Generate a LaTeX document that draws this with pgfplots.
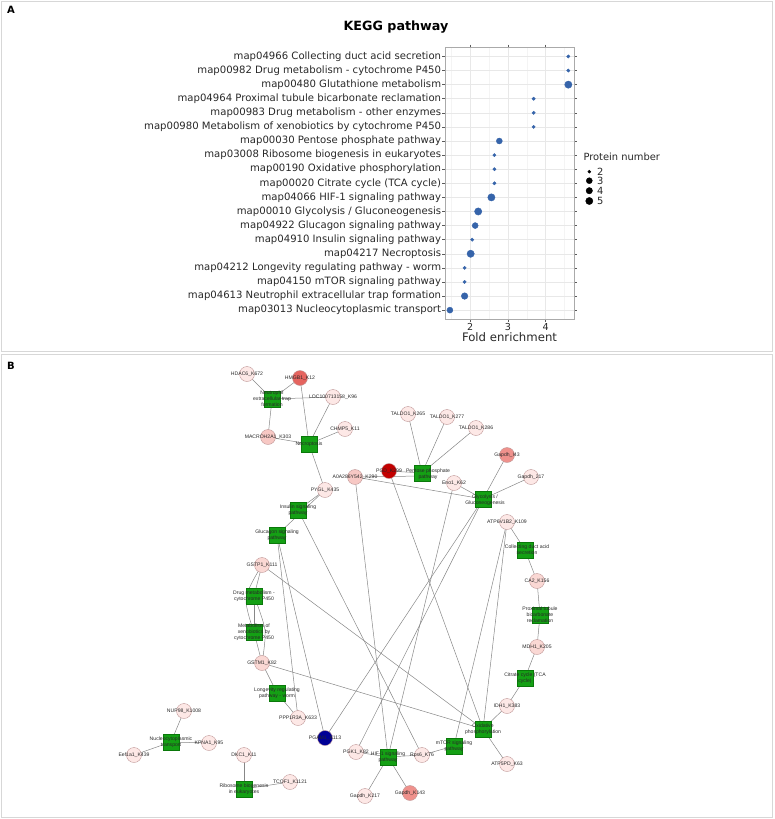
\documentclass[border=0pt]{standalone}
\usepackage{pgfplots}
\pgfplotsset{compat=1.18}
\usepackage{fontspec}
\setmainfont{DejaVu Sans}
\newfontfamily\netfont{Liberation Sans}
\definecolor{dotblue}{RGB}{54,100,170}
\definecolor{gridmaj}{RGB}{232,232,232}
\definecolor{gridmin}{RGB}{244,244,244}
\definecolor{boxgray}{RGB}{170,170,170}
\definecolor{tickgray}{RGB}{90,90,90}
\definecolor{labgray}{RGB}{40,40,40}
\definecolor{framegray}{RGB}{215,215,215}
\definecolor{edgegray}{RGB}{135,135,135}
\definecolor{netgreen}{RGB}{20,160,20}
\definecolor{netgreend}{RGB}{10,120,10}
\definecolor{nodeborder}{RGB}{190,150,150}
\definecolor{cA}{RGB}{253,232,230}
\definecolor{cB}{RGB}{250,216,212}
\definecolor{cC}{RGB}{247,200,196}
\definecolor{cD}{RGB}{229,100,95}
\definecolor{cE}{RGB}{239,145,140}
\definecolor{cF}{RGB}{195,0,0}
\definecolor{cG}{RGB}{0,0,150}
\definecolor{nettext}{RGB}{40,40,40}
\pgfplotsset{
  netedge/.style={no markers, color=edgegray, line width=0.5pt},
  prot/.style={only marks, mark=*, mark size=7.5pt, mark options={fill=#1, draw=nodeborder, line width=0.4pt}},
  path/.style={only marks, mark=square*, mark size=8pt, mark options={fill=netgreen, draw=netgreend, line width=0.4pt, rounded corners=2pt}},
  canvas/.style={at={(0pt,0pt)}, anchor=south west, width=774pt, height=819pt, scale only axis,
    xmin=0, xmax=774, ymin=0, ymax=819, y dir=reverse, hide axis, clip=false},
}
\tikzset{nl/.style={font=\netfont\fontsize{5.1}{5.9}\selectfont, text=nettext, align=center, inner sep=0pt}}
\newcommand{\E}[4]{\addplot[netedge] coordinates {(#1,#2) (#3,#4)};}
\begin{document}
\begin{tikzpicture}
\useasboundingbox (0,0) rectangle (774pt,819pt);
\begin{axis}[canvas]
% panel frames
\draw[framegray, line width=0.8pt] (axis cs:1.5,1.5) rectangle (axis cs:772.5,351.5);
\draw[framegray, line width=0.8pt] (axis cs:1.5,354.5) rectangle (axis cs:772.5,817.5);
\node[font=\bfseries\fontsize{10}{12}\selectfont] at (axis cs:11,10) {A};
\node[font=\bfseries\fontsize{10}{12}\selectfont] at (axis cs:11,366) {B};
% panel A title, x label, legend
\node[font=\bfseries\fontsize{12.7}{14}\selectfont] at (axis cs:396,27) {KEGG pathway};
\node[font=\fontsize{11.7}{13}\selectfont, text=labgray] at (axis cs:509.5,336.7) {Fold enrichment};
\node[anchor=west, font=\fontsize{9.9}{11}\selectfont, text=labgray, inner sep=0pt] at (axis cs:583.3,156.7) {Protein number};
\addplot[only marks, mark=*, mark size=1.5pt, color=black] coordinates {(589.3,171.7)};
\addplot[only marks, mark=*, mark size=3.0pt, color=black] coordinates {(589.3,180.7)};
\addplot[only marks, mark=*, mark size=3.2pt, color=black] coordinates {(589.3,190.7)};
\addplot[only marks, mark=*, mark size=3.6pt, color=black] coordinates {(589.3,201.0)};
\node[anchor=west, font=\fontsize{9.9}{11}\selectfont, text=labgray, inner sep=0pt] at (axis cs:597,171.7) {2};
\node[anchor=west, font=\fontsize{9.9}{11}\selectfont, text=labgray, inner sep=0pt] at (axis cs:597,180.7) {3};
\node[anchor=west, font=\fontsize{9.9}{11}\selectfont, text=labgray, inner sep=0pt] at (axis cs:597,190.7) {4};
\node[anchor=west, font=\fontsize{9.9}{11}\selectfont, text=labgray, inner sep=0pt] at (axis cs:597,201.0) {5};
% ---------- network edges ----------
% Neutrophil extracellular trap formation
\E{272}{399}{247}{374} \E{272}{399}{300}{378} \E{272}{399}{333}{397} \E{272}{399}{268}{437}
% Necroptosis
\E{309}{444}{300}{378} \E{309}{444}{333}{397} \E{309}{444}{345}{429} \E{309}{444}{268}{437} \E{309}{444}{325}{490}
% Pentose phosphate pathway
\E{422}{473}{408}{414} \E{422}{473}{447}{417} \E{422}{473}{476}{428} \E{422}{473}{389}{471} \E{422}{476}{355}{477}
% Glycolysis / Gluconeogenesis
\E{483}{499}{507}{455} \E{483}{499}{531}{477} \E{483}{499}{355}{477} \E{483}{499}{454}{483} \E{483}{499}{325}{738} \E{483}{499}{356}{752}
% HIF-1 signaling pathway
\E{388}{757}{355}{477} \E{388}{757}{454}{483} \E{388}{757}{356}{752} \E{388}{757}{422}{755} \E{388}{757}{365}{796} \E{388}{757}{410}{793}
% Insulin / Glucagon
\E{298}{510}{325}{490} \E{298}{510}{422}{755}
\E{277}{535}{325}{490} \E{277}{535}{325}{738} \E{277}{535}{298}{718}
% Collecting duct, proximal tubule, citrate cycle
\E{525}{550}{507}{522} \E{525}{550}{537}{581}
\E{540}{615}{537}{581} \E{540}{615}{537}{647}
\E{525}{678}{537}{647} \E{525}{678}{507}{706}
% Oxidative phosphorylation
\E{483}{729}{389}{471} \E{483}{729}{262}{565} \E{483}{729}{262}{663} \E{483}{729}{507}{706} \E{483}{729}{507}{522} \E{483}{729}{507}{764}
% mTOR
\E{454}{746}{507}{522} \E{454}{746}{422}{755}
% Drug metabolism / xenobiotics / longevity
\E{254}{596}{262}{565} \E{254}{632}{262}{663}
\addplot[netedge, smooth] coordinates {(262,565) (246,598) (254,632)};
\addplot[netedge, smooth] coordinates {(254,596) (265,630) (262,663)};
\E{254}{596}{254}{632}
\E{277}{693}{262}{663} \E{277}{693}{298}{718}
% Nucleocytoplasmic transport, ribosome biogenesis
\E{171}{742}{184}{711} \E{171}{742}{134}{755} \E{171}{742}{209}{743}
\E{244}{789}{244}{755} \E{244}{789}{290}{782}
% ---------- network nodes ----------
\addplot[prot=cA] coordinates {(247,374) (333,397) (345,429) (408,414) (447,417) (476,428) (531,477) (454,483) (325,490) (507,522) (507,706) (298,718) (356,752) (422,755) (507,764) (365,796) (184,711) (134,755) (209,743) (244,755) (290,782)};
\addplot[prot=cB] coordinates {(262,565) (262,663) (537,581) (537,647)};
\addplot[prot=cC] coordinates {(268,437) (355,477)};
\addplot[prot=cD] coordinates {(300,378)};
\addplot[prot=cE] coordinates {(507,455) (410,793)};
\addplot[prot=cF] coordinates {(389,471)};
\addplot[prot=cG] coordinates {(325,738)};
\addplot[path] coordinates {(272,399) (309,444) (422,473) (483,499) (298,510) (277,535) (525,550) (254,596) (540,615) (254,632) (525,678) (277,693) (483,729) (454,746) (388,757) (171,742) (244,789)};
\end{axis}
% ---------- network labels (on top) ----------
\begin{axis}[canvas]
\node[nl] at (axis cs:247,374) {HDAC6\_K672};
\node[nl] at (axis cs:300,378) {HMGB1\_K12};
\node[nl] at (axis cs:333,397) {LOC100713158\_K96};
\node[nl] at (axis cs:345,429) {CHMP5\_K11};
\node[nl] at (axis cs:268,437) {MACROH2A1\_K303};
\node[nl] at (axis cs:408,414) {TALDO1\_K265};
\node[nl] at (axis cs:447,417) {TALDO1\_K277};
\node[nl] at (axis cs:476,428) {TALDO1\_K286};
\node[nl] at (axis cs:507,455) {Gapdh\_I43};
\node[nl] at (axis cs:531,477) {Gapdh\_217};
\node[nl] at (axis cs:389,471) {PGD\_K299};
\node[nl] at (axis cs:355,477) {A0A286Y542\_K290};
\node[nl] at (axis cs:454,483) {Eno1\_K62};
\node[nl] at (axis cs:325,490) {PYGL\_K435};
\node[nl] at (axis cs:507,522) {ATP6V1B2\_K109};
\node[nl] at (axis cs:262,565) {GSTP1\_K111};
\node[nl] at (axis cs:537,581) {CA2\_K156};
\node[nl] at (axis cs:537,647) {MDH1\_K205};
\node[nl] at (axis cs:262,663) {GSTM1\_K82};
\node[nl] at (axis cs:507,706) {IDH1\_K383};
\node[nl] at (axis cs:298,718) {PPP1R3A\_K633};
\node[nl] at (axis cs:325,738) {PGAM1\_K113};
\node[nl] at (axis cs:356,752) {PGK1\_K82};
\node[nl] at (axis cs:422,755) {Rps6\_K76};
\node[nl] at (axis cs:507,764) {ATP5PD\_K63};
\node[nl] at (axis cs:365,796) {Gapdh\_K217};
\node[nl] at (axis cs:410,793) {Gapdh\_K143};
\node[nl] at (axis cs:184,711) {NUP98\_K1008};
\node[nl] at (axis cs:134,755) {Eef1a1\_K439};
\node[nl] at (axis cs:209,743) {KPNA1\_K95};
\node[nl] at (axis cs:244,755) {DKC1\_K11};
\node[nl] at (axis cs:290,782) {TCOF1\_K1121};
\node[nl] at (axis cs:272,399) {Neutrophil\\extracellular trap\\formation};
\node[nl] at (axis cs:309,444) {Necroptosis};
\node[nl] at (axis cs:428,474) {Pentose phosphate\\pathway};
\node[nl] at (axis cs:485,500) {Glycolysis /\\Gluconeogenesis};
\node[nl] at (axis cs:298,510) {Insulin signaling\\pathway};
\node[nl] at (axis cs:277,535) {Glucagon signaling\\pathway};
\node[nl] at (axis cs:527,550) {Collecting duct acid\\secretion};
\node[nl] at (axis cs:254,596) {Drug metabolism -\\cytochrome P450};
\node[nl] at (axis cs:540,615) {Proximal tubule\\bicarbonate\\reclamation};
\node[nl] at (axis cs:254,632) {Metabolism of\\xenobiotics by\\cytochrome P450};
\node[nl] at (axis cs:525,678) {Citrate cycle (TCA\\cycle)};
\node[nl] at (axis cs:277,693) {Longevity regulating\\pathway - worm};
\node[nl] at (axis cs:483,729) {Oxidative\\phosphorylation};
\node[nl] at (axis cs:454,746) {mTOR signaling\\pathway};
\node[nl] at (axis cs:388,757) {HIF-1 signaling\\pathway};
\node[nl] at (axis cs:171,742) {Nucleocytoplasmic\\transport};
\node[nl] at (axis cs:244,789) {Ribosome biogenesis\\in eukaryotes};
\end{axis}
% ---------- panel A dot plot ----------
\begin{axis}[at={(445pt,499.7pt)}, anchor=south west, width=129pt, height=272pt, scale only axis,
  xmin=1.33, xmax=4.75, ymin=0.35, ymax=19.65,
  xtick={2,3,4}, minor xtick={1.5,2.5,3.5,4.5},
  ytick={1,...,19},
  yticklabels={{map03013 Nucleocytoplasmic transport},{map04613 Neutrophil extracellular trap formation},{map04150 mTOR signaling pathway},{map04212 Longevity regulating pathway - worm},{map04217 Necroptosis},{map04910 Insulin signaling pathway},{map04922 Glucagon signaling pathway},{map00010 Glycolysis / Gluconeogenesis},{map04066 HIF-1 signaling pathway},{map00020 Citrate cycle (TCA cycle)},{map00190 Oxidative phosphorylation},{map03008 Ribosome biogenesis in eukaryotes},{map00030 Pentose phosphate pathway},{map00980 Metabolism of xenobiotics by cytochrome P450},{map00983 Drug metabolism - other enzymes},{map04964 Proximal tubule bicarbonate reclamation},{map00480 Glutathione metabolism},{map00982 Drug metabolism - cytochrome P450},{map04966 Collecting duct acid secretion}},
  grid=both, major grid style={draw=gridmaj, line width=0.5pt}, minor grid style={draw=gridmin, line width=0.4pt},
  axis line style={draw=boxgray, line width=0.6pt},
  tick align=outside, major tick length=2.7pt, minor tick length=0pt,
  tick style={draw=tickgray, line width=0.5pt},
  /pgf/number format/assume math mode=true,
  xticklabel style={font=\fontsize{9.6}{11}\selectfont, text=labgray, inner sep=1.5pt},
  yticklabel style={font=\fontsize{10.1}{12}\selectfont, text=labgray, inner sep=1pt},
  clip=false]
\addplot[only marks, mark=*, mark size=1.65pt, color=dotblue] coordinates {(4.60,19) (4.60,18) (3.68,16) (3.68,15) (3.68,14) (2.64,12) (2.64,11) (2.64,10) (2.05,6) (1.85,4) (1.85,3)};
\addplot[only marks, mark=*, mark size=3.0pt, color=dotblue] coordinates {(2.77,13) (2.13,7) (1.46,1)};
\addplot[only marks, mark=*, mark size=3.3pt, color=dotblue] coordinates {(1.85,2)};
\addplot[only marks, mark=*, mark size=3.65pt, color=dotblue] coordinates {(4.60,17) (2.56,9) (2.21,8) (2.01,5)};
\end{axis}
\end{tikzpicture}
\end{document}
